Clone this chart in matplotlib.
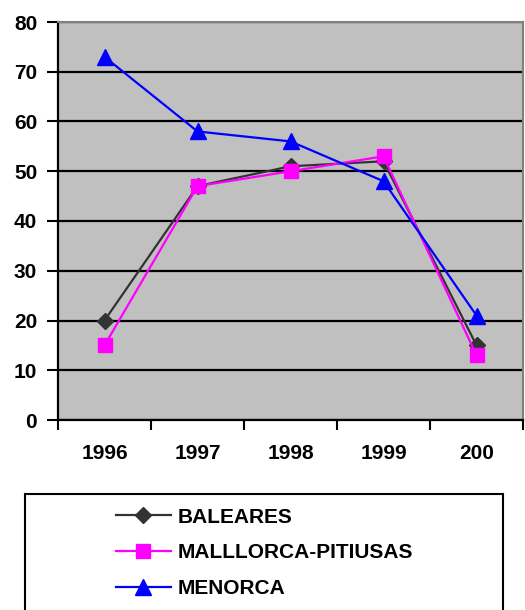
import matplotlib
matplotlib.use("Agg")
import matplotlib.pyplot as plt
from matplotlib.patches import Rectangle

plt.rcParams['font.family'] = ['Liberation Sans', 'DejaVu Sans']

years = ["1996", "1997", "1998", "1999", "200"]
baleares = [20, 47, 51, 52, 15]
mallorca = [15, 47, 50, 53, 13]
menorca = [73, 58, 56, 48, 21]
series_names = ["BALEARES", "MALLLORCA-PITIUSAS", "MENORCA"]

FS = 15

fig = plt.figure(figsize=(5.25, 6.1), dpi=100)
W, H = 525, 610
ax = fig.add_axes([58 / W, 1 - 420 / H, (523 - 58) / W, (420 - 22) / H])
ax.set_facecolor("#C0C0C0")

x = list(range(len(years)))
ax.plot(x, baleares, color="#333333", lw=1.6, marker="D", ms=8, label=series_names[0], zorder=3)
ax.plot(x, mallorca, color="#FF00FF", lw=1.6, marker="s", ms=10, label=series_names[1], zorder=4)
ax.plot(x, menorca, color="#0000FF", lw=1.6, marker="^", ms=11, label=series_names[2], zorder=5)

ax.set_xlim(-0.5, 4.5)
ax.set_ylim(0, 80)
ax.set_yticks(range(0, 81, 10))
ax.yaxis.grid(True, color="black", lw=1.6)
ax.set_axisbelow(True)

ax.set_xticks(x)
ax.set_xticklabels(years, fontsize=FS, fontweight="bold")
ax.set_xticks([i - 0.5 for i in range(6)], minor=True)
ax.tick_params(axis="x", which="major", length=0, pad=17)
ax.tick_params(axis="x", which="minor", length=7, width=1.5, direction="out")
ax.tick_params(axis="y", length=8, width=1.5, pad=7)
for lab in ax.get_yticklabels():
    lab.set_fontsize(FS)
    lab.set_fontweight("bold")

ax.spines["left"].set_color("black")
ax.spines["left"].set_linewidth(1.6)
ax.spines["bottom"].set_color("black")
ax.spines["bottom"].set_linewidth(1.6)
ax.spines["top"].set_color("#808080")
ax.spines["top"].set_linewidth(1.5)
ax.spines["right"].set_color("#808080")
ax.spines["right"].set_linewidth(1.5)

# legend box
rect = Rectangle((25 / W, -0.1), (503 - 25) / W, (610 - 494) / H + 0.1,
                 transform=fig.transFigure, facecolor="white", edgecolor="black",
                 lw=1.5, zorder=0)
fig.patches.append(rect)

handles, labels = ax.get_legend_handles_labels()
leg = fig.legend(handles, labels, loc="upper left",
                 bbox_to_anchor=(97 / W, 1 - 489 / H),
                 frameon=False, handlelength=2.65, handletextpad=0.3,
                 labelspacing=0.8, prop={"size": FS, "weight": "bold"})

fig.savefig("out.png", dpi=100)
